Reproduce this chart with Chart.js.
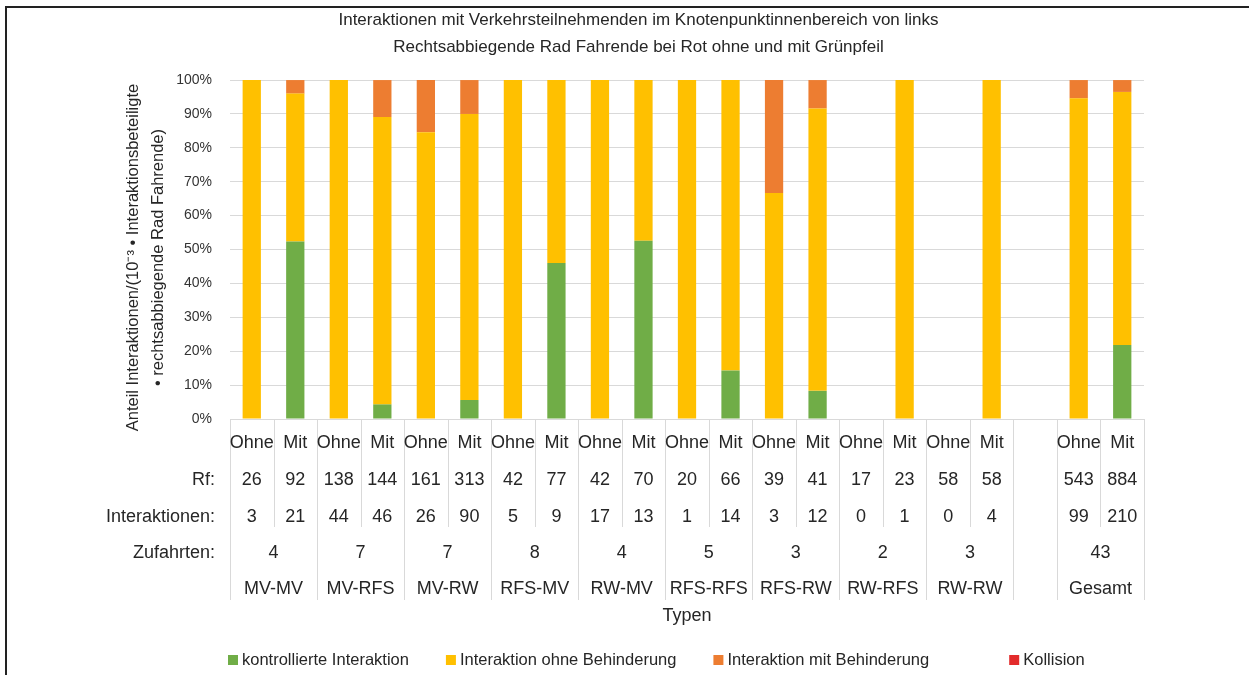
<!DOCTYPE html>
<html>
<head>
<meta charset="utf-8">
<script src="https://cdn.jsdelivr.net/npm/chart.js@4/dist/chart.umd.min.js"></script>
<style>
  body { margin: 0; background: #fff; }
  canvas { display: block; }
</style>
</head>
<body>
<canvas id="chart" width="1249" height="675"></canvas>
<script>
// Spalten (Ohne/Mit je Typ, eine Leerspalte vor Gesamt)
const columns = ['Ohne', 'Mit', 'Ohne', 'Mit', 'Ohne', 'Mit', 'Ohne', 'Mit', 'Ohne', 'Mit',
  'Ohne', 'Mit', 'Ohne', 'Mit', 'Ohne', 'Mit', 'Ohne', 'Mit', '', 'Ohne', 'Mit'];
const columnGroup = [0, 0, 1, 1, 2, 2, 3, 3, 4, 4, 5, 5, 6, 6, 7, 7, 8, 8, null, 9, 9];
const typen = ['MV-MV', 'MV-RFS', 'MV-RW', 'RFS-MV', 'RW-MV', 'RFS-RFS', 'RFS-RW', 'RW-RFS', 'RW-RW', 'Gesamt'];
const zufahrten = [4, 7, 7, 8, 4, 5, 3, 2, 3, 43];
const rf = [26, 92, 138, 144, 161, 313, 42, 77, 42, 70, 20, 66, 39, 41, 17, 23, 58, 58, null, 543, 884];
const interaktionen = [3, 21, 44, 46, 26, 90, 5, 9, 17, 13, 1, 14, 3, 12, 0, 1, 0, 4, null, 99, 210];

// Anteile in %
const kontrolliert = [0, 52.4, 0, 4.3, 0, 5.6, 0, 46, 0, 52.6, 0, 14.3, 0, 8.3, null, 0, null, 0, null, 0, 21.8];
const ohneBehinderung = [100, 43.6, 100, 84.8, 84.6, 84.4, 100, 54, 100, 47.4, 100, 85.7, 66.7, 83.3, null, 100, null, 100, null, 94.6, 74.7];
const mitBehinderung = [0, 4.0, 0, 10.9, 15.4, 10.0, 0, 0, 0, 0, 0, 0, 33.3, 8.4, null, 0, null, 0, null, 5.4, 3.5];
const kollision = [0, 0, 0, 0, 0, 0, 0, 0, 0, 0, 0, 0, 0, 0, null, 0, null, 0, null, 0, 0];

const yTicks = [0, 10, 20, 30, 40, 50, 60, 70, 80, 90, 100];
const yTitle = ['Anteil Interaktionen/(10⁻³ • Interaktionsbeteiligte', '• rechtsabbiegende Rad Fahrende)'];

const FONT = '"Liberation Sans", Arial, sans-serif';
const TEXT = '#262626';
Chart.defaults.font.family = FONT;
Chart.defaults.color = TEXT;

// Rahmen, Achsentitel, Tabelle unter der x-Achse und Legende
const tablePlugin = {
  id: 'table',
  beforeDraw(chart) {
    const { ctx, width, height } = chart;
    ctx.save();
    ctx.fillStyle = '#fff';
    ctx.fillRect(0, 0, width, height);
    ctx.strokeStyle = '#222';
    ctx.lineWidth = 2;
    ctx.beginPath();
    ctx.moveTo(6, height);
    ctx.lineTo(6, 7);
    ctx.lineTo(width, 7);
    ctx.stroke();
    ctx.restore();
  },
  afterDraw(chart) {
    const { ctx, chartArea } = chart;
    const x = chart.scales.x;
    const bottom = chartArea.bottom;
    const px = i => x.getPixelForValue(i);
    const half = (px(1) - px(0)) / 2;
    const n = columns.length;

    ctx.save();
    // y-Achsentitel
    ctx.fillStyle = TEXT;
    ctx.font = '16.5px ' + FONT;
    ctx.textAlign = 'center';
    ctx.textBaseline = 'middle';
    yTitle.forEach((line, i) => {
      ctx.save();
      ctx.translate(133 + i * 25, (chartArea.top + bottom) / 2 + 8);
      ctx.rotate(-Math.PI / 2);
      ctx.fillText(line, 0, 0);
      ctx.restore();
    });

    ctx.strokeStyle = '#d9d9d9';
    ctx.lineWidth = 1;
    for (let i = 0; i <= n; i++) {
      const xb = i === 0 ? px(0) - half : i === n ? px(n - 1) + half : (px(i - 1) + px(i)) / 2;
      const long = i === 0 || i === n || columnGroup[i - 1] !== columnGroup[i];
      ctx.beginPath();
      ctx.moveTo(Math.round(xb) + 0.5, bottom);
      ctx.lineTo(Math.round(xb) + 0.5, bottom + (long ? 181 : 108));
      ctx.stroke();
    }

    ctx.font = '18px ' + FONT;
    const rows = [24, 61, 98, 134, 170];
    columns.forEach((c, i) => {
      ctx.fillText(c, px(i), bottom + rows[0]);
      if (rf[i] !== null) ctx.fillText(String(rf[i]), px(i), bottom + rows[1]);
      if (interaktionen[i] !== null) ctx.fillText(String(interaktionen[i]), px(i), bottom + rows[2]);
    });
    typen.forEach((t, g) => {
      const idx = columnGroup.map((v, i) => (v === g ? i : -1)).filter(i => i >= 0);
      const cx = idx.reduce((s, i) => s + px(i), 0) / idx.length;
      ctx.fillText(String(zufahrten[g]), cx, bottom + rows[3]);
      ctx.fillText(t, cx, bottom + rows[4]);
    });
    ctx.fillText('Typen', (chartArea.left + chartArea.right) / 2, bottom + 197);

    ctx.textAlign = 'right';
    const lx = chartArea.left - 15;
    ctx.fillText('Rf:', lx, bottom + rows[1]);
    ctx.fillText('Interaktionen:', lx, bottom + rows[2]);
    ctx.fillText('Zufahrten:', lx, bottom + rows[3]);

    // Legende
    ctx.font = '16.5px ' + FONT;
    ctx.textAlign = 'left';
    const gaps = [37, 37, 80];
    let lxPos = 228;
    const ly = 660;
    chart.data.datasets.forEach((ds, i) => {
      ctx.fillStyle = ds.backgroundColor;
      ctx.fillRect(lxPos, ly - 5, 10, 10);
      ctx.fillStyle = TEXT;
      ctx.fillText(ds.label, lxPos + 14, ly);
      lxPos += 14 + ctx.measureText(ds.label).width + (gaps[i] || 0);
    });
    ctx.restore();
  }
};

const barOpts = { borderWidth: 0, barPercentage: 0.42, categoryPercentage: 1 };

new Chart(document.getElementById('chart'), {
  type: 'bar',
  data: {
    labels: columns,
    datasets: [
      { label: 'kontrollierte Interaktion', data: kontrolliert, backgroundColor: '#70ad47', ...barOpts },
      { label: 'Interaktion ohne Behinderung', data: ohneBehinderung, backgroundColor: '#ffc000', ...barOpts },
      { label: 'Interaktion mit Behinderung', data: mitBehinderung, backgroundColor: '#ed7d31', ...barOpts },
      { label: 'Kollision', data: kollision, backgroundColor: '#e32b2b', ...barOpts },
    ],
  },
  options: {
    responsive: false,
    animation: false,
    layout: { padding: { left: 28, right: 0, top: 0, bottom: 0 } },
    plugins: {
      title: {
        display: true,
        text: ['Interaktionen mit Verkehrsteilnehmenden im Knotenpunktinnenbereich von links',
          'Rechtsabbiegende Rad Fahrende bei Rot ohne und mit Grünpfeil'],
        color: TEXT,
        font: { size: 17, weight: 'normal', lineHeight: 1.59 },
        padding: { top: 6.5, bottom: 19.5 },
      },
      legend: { display: false },
      tooltip: { enabled: false },
    },
    scales: {
      x: {
        stacked: true,
        grid: { display: false },
        border: { display: false },
        ticks: { display: false },
        afterFit: scale => { scale.height = 256; },
      },
      y: {
        stacked: true,
        min: 0,
        max: 100,
        afterBuildTicks: scale => { scale.ticks = yTicks.map(v => ({ value: v })); },
        ticks: { callback: v => v + '%', padding: 18, color: '#333', font: { size: 14 } },
        grid: { color: '#d9d9d9', drawTicks: false },
        border: { display: false },
        afterFit: scale => { scale.width = 202; },
      },
      // leere rechte Achse hält den Plotbereich bei x = 1144
      y2: {
        position: 'right',
        grid: { display: false },
        border: { display: false },
        ticks: { display: false },
        afterFit: scale => { scale.width = 105; },
      },
    },
  },
  plugins: [tablePlugin],
});
</script>
</body>
</html>
